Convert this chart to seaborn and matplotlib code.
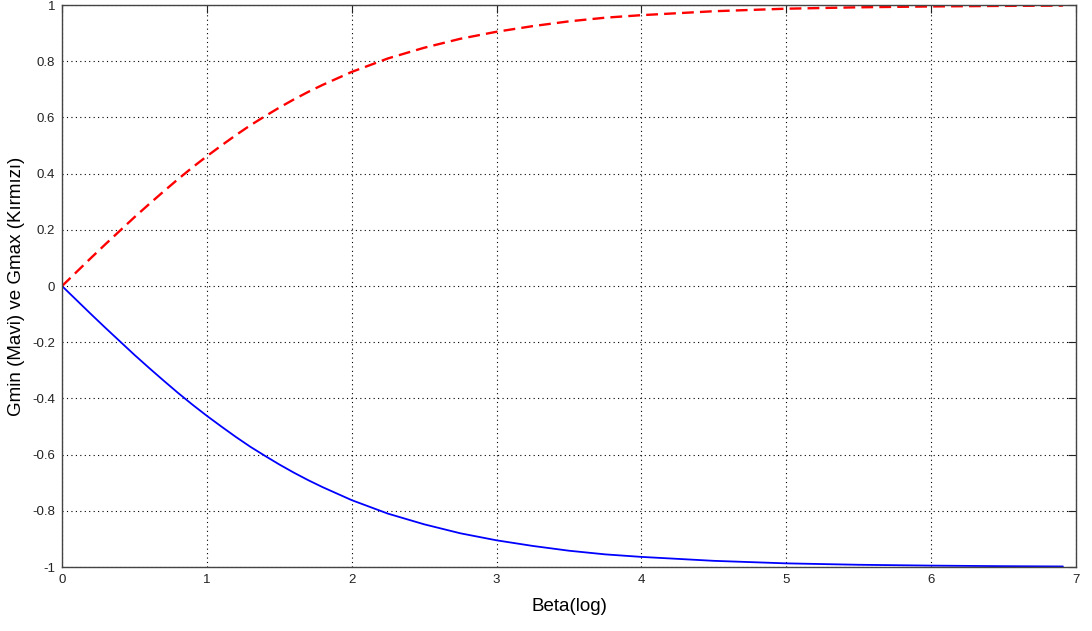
import matplotlib
matplotlib.use("Agg")
import matplotlib.pyplot as plt
import seaborn as sns
import pandas as pd

# Beta on a log scale and the bounds read at each step
beta = [0.0, 0.1, 0.2, 0.3, 0.4, 0.5, 0.6, 0.7, 0.8, 0.9, 1.0, 1.1, 1.2,
        1.3, 1.4, 1.5, 1.6, 1.7, 1.8, 1.9, 2.0, 2.25, 2.5, 2.75, 3.0, 3.25,
        3.5, 3.75, 4.0, 4.5, 5.0, 5.5, 6.0, 6.5, 6.91]
gmax = [0.0, 0.05, 0.1, 0.149, 0.197, 0.245, 0.291, 0.336, 0.38, 0.422,
        0.462, 0.50, 0.537, 0.572, 0.604, 0.635, 0.664, 0.691, 0.716, 0.739,
        0.762, 0.81, 0.848, 0.88, 0.905, 0.925, 0.942, 0.955, 0.964, 0.978,
        0.987, 0.992, 0.995, 0.997, 0.998]
gmin = [0.0, -0.05, -0.1, -0.149, -0.197, -0.245, -0.291, -0.336, -0.38,
        -0.422, -0.462, -0.50, -0.537, -0.572, -0.604, -0.635, -0.664,
        -0.691, -0.716, -0.739, -0.762, -0.81, -0.848, -0.88, -0.905,
        -0.925, -0.942, -0.955, -0.964, -0.978, -0.987, -0.992, -0.995,
        -0.997, -0.998]

x_ticks = [0, 1, 2, 3, 4, 5, 6, 7]
y_ticks = [-1, -0.8, -0.6, -0.4, -0.2, 0, 0.2, 0.4, 0.6, 0.8, 1]
y_tick_labels = ["-1", "-0.8", "-0.6", "-0.4", "-0.2", "0", "0.2", "0.4",
                 "0.6", "0.8", "1"]

sns.set_style("white")
plt.rcParams["font.family"] = ["Liberation Sans", "DejaVu Sans"]

df = pd.DataFrame({"beta": beta, "gmax": gmax, "gmin": gmin})

fig = plt.figure(figsize=(10.92, 6.31), dpi=100)
ax = fig.add_axes([0.0568, 0.1014, 0.9285, 0.8906])

sns.lineplot(data=df, x="beta", y="gmin", color="#0000ff", linewidth=1.3,
             ax=ax)
sns.lineplot(data=df, x="beta", y="gmax", color="#ff0000", linewidth=1.7,
             linestyle=(0, (5, 2.6)), ax=ax)

ax.set_xlim(0, 7)
ax.set_ylim(-1, 1)
ax.set_xticks(x_ticks)
ax.set_xticklabels([str(t) for t in x_ticks])
ax.set_yticks(y_ticks)
ax.set_yticklabels(y_tick_labels)

ax.grid(True, linestyle=(0, (1, 3)), color="black", linewidth=0.8)
ax.tick_params(direction="in", length=6, width=0.8, top=True, right=True,
               labelsize=9.5, colors="#222222", pad=5)
for side in ax.spines.values():
    side.set_color("#444444")
    side.set_linewidth(1.0)

ax.set_xlabel("Beta(log)", fontsize=13.5, color="black", labelpad=9)
ax.set_ylabel("Gmin (Mavi) ve Gmax (Kırmızı)", fontsize=13.5, color="black",
              labelpad=5)

fig.savefig("out.png", dpi=100, facecolor="white")
